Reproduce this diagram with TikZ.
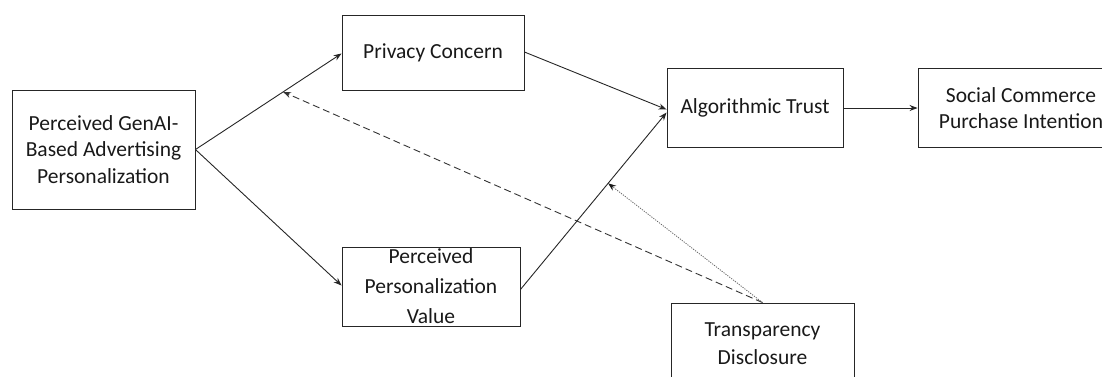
\documentclass[tikz,border=0pt]{standalone}
\usepackage{fontspec}
\setmainfont{Carlito}
\usetikzlibrary{arrows.meta}
\tikzset{
  box/.style={draw=black!85, line width=0.9pt, align=center, inner sep=0pt,
    font=\fontsize{21.5}{26.5}\selectfont, text=black!90},
  link/.style={draw=black!85, line width=0.9pt, -{Stealth[length=8pt,width=6pt]}},
  moddash/.style={draw=black!80, line width=0.9pt, dash pattern=on 7pt off 4pt,
    -{Stealth[length=8pt,width=6pt]}},
  moddot/.style={draw=black!60, line width=0.8pt, dash pattern=on 1.2pt off 1.2pt,
    -{Stealth[length=8pt,width=6pt,color=black!90]}}
}
\begin{document}
\begin{tikzpicture}[x=1pt,y=-1pt]
\useasboundingbox (0,0) rectangle (1102,376);
\clip (0,0) rectangle (1102,376);

% constructs
\node[box, minimum width=183pt, minimum height=119pt] (gen) at (103.5,149.5)
  {Perceived GenAI-\\Based Advertising\\Personalization};
\node[box, minimum width=182pt, minimum height=75pt] (pc) at (433,52.5)
  {Privacy Concern};
\node[box, minimum width=178pt, minimum height=79pt,
  font=\fontsize{21.5}{30}\selectfont] (ppv) at (431,286.5)
  {Perceived\\Personalization\\Value};
\node[box, minimum width=176pt, minimum height=79pt] (at) at (755,108)
  {Algorithmic Trust};
\node[box, minimum width=206pt, minimum height=79pt] (sc) at (1021,108)
  {Social Commerce\\Purchase Intention};
\node[box, minimum width=183pt, minimum height=82pt, font=\fontsize{21.5}{28}\selectfont]
  (td) at (762.5,344) {Transparency\\Disclosure};

% direct paths
\coordinate (genR) at (gen.east);
\draw[link] (genR) -- coordinate[pos=0.6] (m1) ([yshift=-1pt]pc.west);
\draw[link] (genR) -- ([yshift=1pt]ppv.west);
\draw[link] ([yshift=0.5pt]pc.east) -- ([yshift=-1.5pt]at.west);
\draw[link] ([yshift=-3pt]ppv.east) -- coordinate[pos=0.6] (m2) ([yshift=-4.5pt]at.west);
\draw[link] (at.east) -- (sc.west);

% moderating paths
\coordinate (tdTop) at (td.north);
\draw[moddash] (tdTop) -- (m1);
\draw[moddot] (tdTop) -- (m2);
\end{tikzpicture}
\end{document}
